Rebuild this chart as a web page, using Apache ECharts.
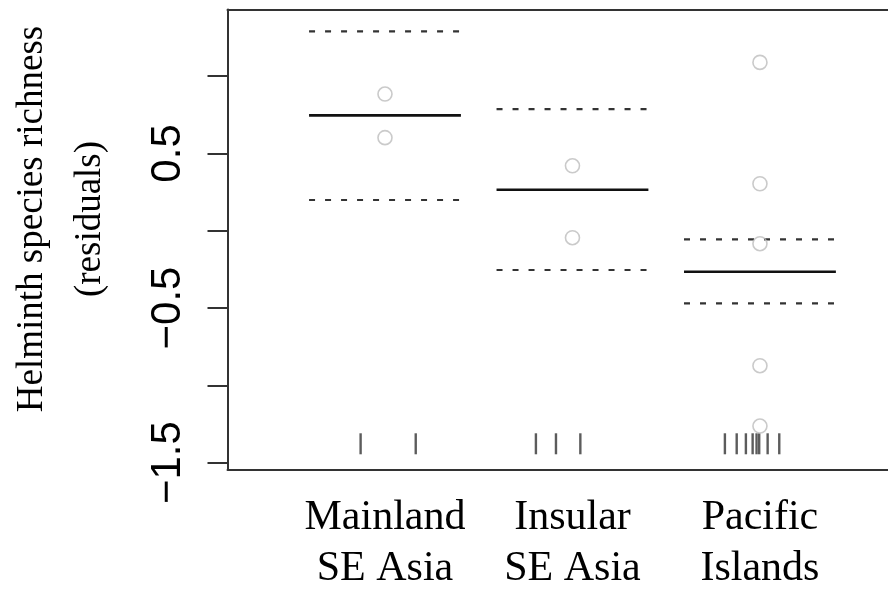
<!DOCTYPE html>
<html>
<head>
<meta charset="utf-8">
<script src="https://cdn.jsdelivr.net/npm/echarts@6/dist/echarts.min.js"></script>
<style>html,body{margin:0;padding:0;background:#fff}#c{width:888px;height:595px}</style>
</head>
<body>
<div id="c"></div>
<script>
// ---- data ----
const categories = ['Mainland\nSE Asia', 'Insular\nSE Asia', 'Pacific\nIslands'];
const groupPos = [1, 2, 3];
const medians = [0.746, 0.265, -0.265];
const upperCI = [1.290, 0.787, -0.056];
const lowerCI = [0.199, -0.254, -0.470];
const pointsMainland = [0.884, 0.602];
const pointsInsular = [0.420, -0.045];
const pointsPacific = [1.089, 0.304, -0.084, -0.873, -1.263];
const rugMainland = [0.870, 1.164];
const rugInsular = [1.805, 1.912, 2.042];
const rugPacific = [2.813, 2.876, 2.925, 2.961, 2.982, 2.996, 3.041, 3.103];
const yTickValues = [-1.5, -1, -0.5, 0, 0.5, 1];
const yLabelValues = [-1.5, -0.5, 0.5];
const yLabelTexts = ['\u22121.5', '\u22120.5', '0.5'];
const yTitle = ['Helminth species richness', '(residuals)'];

// ---- layout constants ----
const halfW = 0.405;
const rugLevel = -1.378;
const xMin = 0.16, xMax = 3.683;   // plot region is cut off at the right edge
const yMin = -1.543, yMax = 1.431;

const series = [];
function seg(pos, val, style) {
  series.push({
    type: 'line', silent: true, symbol: 'none', animation: false,
    data: [[pos - halfW, val], [pos + halfW, val]],
    lineStyle: style, z: 2
  });
}
groupPos.forEach((p, i) => {
  seg(p, upperCI[i], {color: '#333', width: 2.2, type: [6, 10]});
  seg(p, lowerCI[i], {color: '#333', width: 2.2, type: [6, 10]});
  seg(p, medians[i], {color: '#111', width: 2.6});
});
const pts = [pointsMainland, pointsInsular, pointsPacific];
series.push({
  type: 'scatter', silent: true, animation: false, z: 3,
  symbol: 'circle', symbolSize: 14,
  itemStyle: {color: 'rgba(255,255,255,0)', borderColor: '#bdbdbd', borderWidth: 1.6},
  data: pts.flatMap((arr, i) => arr.map(v => [groupPos[i], v]))
});
series.push({
  type: 'scatter', silent: true, animation: false, z: 2,
  symbol: 'rect', symbolSize: [2.4, 21],
  itemStyle: {color: '#333'},
  data: [].concat(rugMainland, rugInsular, rugPacific).map(x => [x, rugLevel])
});

const boxLine = {show: true, onZero: false, lineStyle: {color: '#333', width: 2}};
const chart = echarts.init(document.getElementById('c'), null, {renderer: 'canvas'});
chart.setOption({
  backgroundColor: '#fff',
  animation: false,
  grid: {left: 227.5, top: 9.5, right: 0, bottom: 125.7, show: false},
  xAxis: [{
    type: 'value', min: xMin, max: xMax, position: 'bottom',
    axisLine: boxLine, axisTick: {show: false}, splitLine: {show: false},
    axisLabel: {
      customValues: groupPos,
      formatter: v => categories[groupPos.indexOf(Math.round(v))] || '',
      fontFamily: 'Liberation Serif', fontSize: 42, lineHeight: 51, color: '#000',
      margin: 23
    }
  }, {
    type: 'value', min: xMin, max: xMax, position: 'top',
    axisLine: boxLine, axisTick: {show: false}, splitLine: {show: false},
    axisLabel: {show: false}
  }],
  yAxis: {
    type: 'value', min: yMin, max: yMax,
    axisLine: boxLine, splitLine: {show: false},
    axisTick: {show: true, customValues: yTickValues, length: 20,
               lineStyle: {color: '#333', width: 2}},
    axisLabel: {
      customValues: yLabelValues,
      formatter: v => {
        const k = yLabelValues.findIndex(t => Math.abs(t - v) < 1e-6);
        return k >= 0 ? yLabelTexts[k] : '';
      },
      rotate: 90, fontFamily: 'Liberation Sans', fontSize: 42, color: '#000',
      margin: 38
    }
  },
  graphic: [
    {type: 'text', x: 32, y: 219, rotation: Math.PI / 2,
     style: {text: yTitle[0], fontFamily: 'Liberation Serif', fontSize: 37,
             fill: '#000', align: 'center', verticalAlign: 'middle'}},
    {type: 'text', x: 90, y: 219, rotation: Math.PI / 2,
     style: {text: yTitle[1], fontFamily: 'Liberation Serif', fontSize: 37,
             fill: '#000', align: 'center', verticalAlign: 'middle'}}
  ],
  series: series
});
</script>
</body>
</html>
